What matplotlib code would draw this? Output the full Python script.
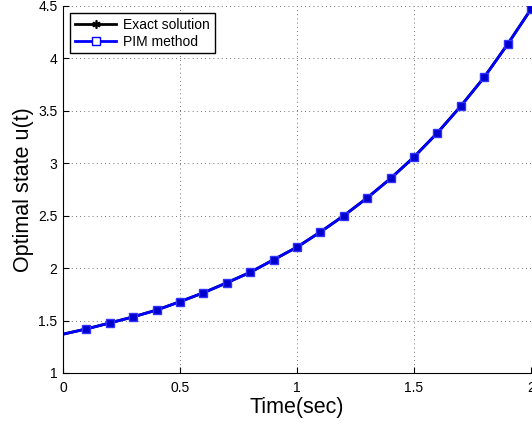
import matplotlib
matplotlib.use('Agg')
import matplotlib.pyplot as plt
from matplotlib.lines import Line2D

t = [0.0, 0.1, 0.2, 0.3, 0.4, 0.5, 0.6, 0.7, 0.8, 0.9, 1.0,
     1.1, 1.2, 1.3, 1.4, 1.5, 1.6, 1.7, 1.8, 1.9, 2.0]
u_exact = [1.37, 1.42, 1.477, 1.535, 1.60, 1.68, 1.765, 1.86, 1.96, 2.08, 2.20,
           2.345, 2.50, 2.67, 2.855, 3.06, 3.29, 3.545, 3.82, 4.135, 4.47]
u_pim = list(u_exact)

plt.rcParams['font.family'] = ['Liberation Sans', 'DejaVu Sans']

fig = plt.figure(figsize=(5.32, 4.25), dpi=100)
ax = fig.add_axes([0.1184, 0.1224, 0.8797, 0.8635])

marks = list(range(1, len(t)))
ax.plot(t, u_exact, color='black', lw=2, marker=(6, 2, 0), ms=6, mew=1.2,
        markevery=marks)
ax.plot(t, u_pim, color='#0000ff', lw=2, marker='s', ms=6, mfc='#0000cc',
        mec='#3333ff', mew=1, markevery=marks)

ax.set_xlim(0, 2)
ax.set_ylim(1, 4.5)
ax.set_xticks([0, 0.5, 1, 1.5, 2])
ax.set_xticklabels(['0', '0.5', '1', '1.5', '2'])
ax.set_yticks([1, 1.5, 2, 2.5, 3, 3.5, 4, 4.5])
ax.set_yticklabels(['1', '1.5', '2', '2.5', '3', '3.5', '4', '4.5'])
ax.tick_params(direction='in', labelsize=10, length=4)
ax.tick_params(axis='x', pad=6)
ax.tick_params(axis='y', pad=4)
ax.grid(True, linestyle=(0, (1, 4)), color='#444444', lw=0.6)
ax.spines['top'].set_visible(False)
ax.spines['right'].set_visible(False)

ax.set_xlabel('Time(sec)', fontsize=15.5, labelpad=1)
ax.set_ylabel('Optimal state u(t)', fontsize=15.5, labelpad=3)

handles = [
    Line2D([], [], color='black', lw=2, marker=(6, 2, 0), ms=6, mew=1.2),
    Line2D([], [], color='#0000ff', lw=2, marker='s', ms=6, mfc='white',
           mec='#0000ff', mew=1),
]
leg = ax.legend(handles, ['Exact solution', 'PIM method'], loc='upper left',
                fontsize=10, fancybox=False, framealpha=1, edgecolor='black',
                borderpad=0.35, handlelength=3.0, handletextpad=0.5,
                labelspacing=0.2, borderaxespad=0.5)
leg.get_frame().set_linewidth(1)

plt.savefig('out.png', dpi=100)
